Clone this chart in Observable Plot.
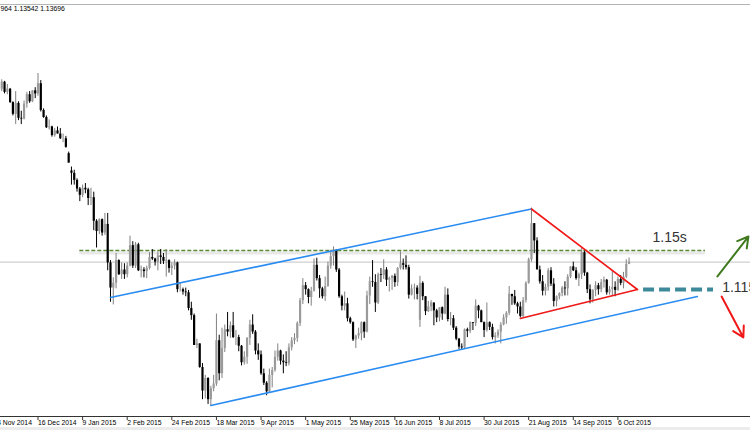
<!DOCTYPE html>
<html><head><meta charset="utf-8">
<script src="https://cdn.jsdelivr.net/npm/d3@7"></script>
<script src="https://cdn.jsdelivr.net/npm/@observablehq/plot@0.6"></script>
<style>
html,body{margin:0;padding:0;background:#ececec;}
#chart svg{display:block;background:#fff;}
</style></head><body><div id="chart"></div>
<script>
// EURUSD daily bars, 27 Nov 2014 .. 12 Oct 2015 (bar index counted from the 24 Nov 2014 tick)
const FIRST_BAR = 3;
const open = [
  1.2470,1.2515,
  1.2450,1.2470,1.2385,1.2310,1.2380,1.2285,1.2280,1.2375,1.2435,1.2390,1.2460,1.2440,1.2505,1.2335,1.2290,1.2225,1.2230,1.2175,1.2205,1.2185,1.2155,1.2155,
  1.2060,1.1950,1.1935,1.1890,1.1835,1.1795,1.1840,1.1830,1.1775,1.1780,1.1630,1.1565,1.1640,1.1555,1.1610,1.1365,1.1205,1.1235,1.1380,1.1290,1.1320,
  1.1290,1.1345,1.1475,1.1345,1.1480,1.1315,1.1320,1.1310,1.1330,1.1400,1.1390,1.1370,1.1410,1.1400,1.1375,1.1380,1.1330,1.1345,1.1365,1.1195,
  1.1195,1.1180,1.1175,1.1075,1.1030,1.0840,1.0850,1.0700,1.0550,1.0630,1.0495,1.0565,1.0595,1.0870,1.0660,1.0820,1.0940,1.0925,1.0965,1.0890,1.0890,1.0835,
  1.0730,1.0765,1.0885,1.0970,1.0925,1.0805,1.0780,1.0660,1.0600,1.0545,1.0650,1.0680,1.0765,1.0805,1.0740,1.0730,1.0725,1.0825,1.0870,1.0885,1.0980,1.1125,
  1.1220,1.1195,1.1145,1.1185,1.1350,1.1265,1.1200,1.1150,1.1215,1.1345,1.1405,1.1445,1.1320,1.1150,1.1090,1.1105,1.1010,1.0985,1.0875,1.0900,1.0915,
  1.0985,1.0925,1.1155,1.1245,1.1240,1.1110,1.1290,1.1285,1.1320,1.1255,1.1265,1.1280,1.1240,1.1330,1.1360,1.1350,1.1335,1.1160,1.1200,1.1205,1.1000,1.1235,
  1.1150,1.1055,1.1085,1.1110,1.1060,1.1015,1.1080,1.1040,1.1160,1.1005,1.1010,1.0950,1.0880,1.0830,1.0825,1.0940,1.0930,1.0985,1.0980,1.1090,1.1060,1.0985,1.0935,
  1.0985,1.0955,1.0890,1.0900,1.0925,1.0970,1.1015,1.1045,1.1165,1.1150,1.1105,1.1085,1.1025,1.1125,1.1235,1.1385,1.1615,1.1505,1.1320,1.1245,1.1185,
  1.1210,1.1315,1.1230,1.1120,1.1150,1.1170,1.1205,1.1200,1.1275,1.1340,1.1315,1.1265,1.1290,1.1430,1.1300,1.1195,1.1130,1.1190,1.1220,1.1195,1.1240,1.1255,
  1.1175,1.1195,1.1210,1.1190,1.1260,1.1235,1.1275,1.1355
];
const high = [
  1.2530,1.2520,
  1.2500,1.2475,1.2390,1.2455,1.2390,1.2330,1.2395,1.2450,1.2455,1.2460,1.2480,1.2570,1.2525,1.2345,1.2300,1.2275,1.2235,1.2220,1.2230,1.2220,1.2185,1.2170,
  1.2070,1.1975,1.1955,1.1900,1.1845,1.1860,1.1870,1.1840,1.1840,1.1815,1.1640,1.1645,1.1645,1.1680,1.1680,1.1380,1.1270,1.1425,1.1385,1.1365,1.1360,
  1.1365,1.1535,1.1500,1.1495,1.1490,1.1345,1.1335,1.1345,1.1430,1.1450,1.1395,1.1435,1.1450,1.1425,1.1450,1.1385,1.1365,1.1385,1.1370,1.1240,
  1.1205,1.1205,1.1190,1.1115,1.1040,1.0880,1.0850,1.0725,1.0650,1.0635,1.0580,1.0650,1.1040,1.0905,1.0950,1.0970,1.1050,1.0990,1.1050,1.0935,1.0905,1.0840,
  1.0800,1.0890,1.1000,1.1035,1.0935,1.0850,1.0805,1.0690,1.0610,1.0690,1.0700,1.0805,1.0850,1.0810,1.0780,1.0800,1.0850,1.0890,1.0915,1.0990,1.1140,1.1265,
  1.1240,1.1200,1.1210,1.1390,1.1395,1.1285,1.1210,1.1275,1.1370,1.1445,1.1467,1.1450,1.1330,1.1160,1.1180,1.1140,1.1020,1.0990,1.0905,1.0950,1.0990,
  1.0990,1.1185,1.1275,1.1380,1.1290,1.1300,1.1330,1.1385,1.1335,1.1275,1.1285,1.1295,1.1335,1.1436,1.1390,1.1410,1.1350,1.1225,1.1230,1.1220,1.1280,1.1245,
  1.1150,1.1120,1.1125,1.1110,1.1070,1.1080,1.1085,1.1210,1.1200,1.1050,1.1030,1.0960,1.0885,1.0850,1.0945,1.0950,1.0990,1.0985,1.1130,1.1095,1.1065,1.0990,1.1110,
  1.0990,1.0975,1.0920,1.0940,1.0985,1.1035,1.1055,1.1215,1.1165,1.1190,1.1115,1.1115,1.1145,1.1245,1.1395,1.1714,1.1615,1.1525,1.1345,1.1285,1.1230,
  1.1330,1.1335,1.1265,1.1155,1.1175,1.1215,1.1245,1.1290,1.1340,1.1370,1.1335,1.1300,1.1460,1.1440,1.1305,1.1225,1.1195,1.1245,1.1235,1.1260,1.1275,1.1260,
  1.1215,1.1310,1.1245,1.1275,1.1285,1.1305,1.1385,1.13964
];
const low = [
  1.2455,1.2440,
  1.2435,1.2380,1.2300,1.2245,1.2270,1.2245,1.2275,1.2350,1.2380,1.2385,1.2410,1.2425,1.2325,1.2285,1.2220,1.2210,1.2165,1.2165,1.2185,1.2150,1.2130,1.2095,
  1.2000,1.1860,1.1860,1.1815,1.1755,1.1780,1.1805,1.1730,1.1730,1.1570,1.1460,1.1545,1.1535,1.1540,1.1315,1.1115,1.1098,1.1200,1.1285,1.1260,1.1260,
  1.1270,1.1340,1.1330,1.1330,1.1310,1.1270,1.1270,1.1265,1.1320,1.1380,1.1345,1.1315,1.1355,1.1355,1.1275,1.1300,1.1285,1.1320,1.1175,1.1180,
  1.1160,1.1150,1.1060,1.1000,1.0840,1.0820,1.0695,1.0495,1.0500,1.0465,1.0458,1.0545,1.0580,1.0615,1.0630,1.0795,1.0895,1.0885,1.0885,1.0840,1.0800,1.0710,
  1.0715,1.0720,1.0840,1.0910,1.0780,1.0745,1.0650,1.0585,1.0520,1.0540,1.0570,1.0670,1.0740,1.0715,1.0660,1.0705,1.0710,1.0805,1.0845,1.0860,1.0960,1.1100,
  1.1160,1.1105,1.1090,1.1180,1.1250,1.1140,1.1135,1.1120,1.1210,1.1325,1.1345,1.1305,1.1140,1.1060,1.1060,1.0990,1.0975,1.0865,1.0820,1.0880,1.0870,
  1.0885,1.0920,1.1100,1.1210,1.1050,1.1100,1.1240,1.1260,1.1215,1.1180,1.1190,1.1210,1.1215,1.1320,1.1320,1.1320,1.1135,1.1155,1.1130,1.1130,1.0955,1.1125,
  1.1030,1.1050,1.1055,1.0965,1.0985,1.0990,1.1000,1.1035,1.0990,1.0965,1.0935,1.0870,1.0815,1.0808,1.0815,1.0890,1.0915,1.0935,1.0960,1.1010,1.0985,1.0890,1.0925,
  1.0935,1.0875,1.0850,1.0885,1.0850,1.0965,1.0975,1.1030,1.1095,1.1095,1.1040,1.1015,1.1015,1.1110,1.1230,1.1370,1.1425,1.1325,1.1230,1.1155,1.1155,
  1.1185,1.1215,1.1085,1.1085,1.1130,1.1150,1.1155,1.1155,1.1265,1.1310,1.1255,1.1215,1.1260,1.1280,1.1170,1.1105,1.1110,1.1150,1.1160,1.1175,1.1205,1.1160,
  1.1160,1.1150,1.1150,1.1185,1.1220,1.1200,1.1265,1.13542
];
const close = [
  1.2515,1.2450,
  1.2470,1.2385,1.2310,1.2380,1.2285,1.2280,1.2375,1.2435,1.2390,1.2460,1.2440,1.2505,1.2335,1.2290,1.2225,1.2230,1.2175,1.2205,1.2185,1.2155,1.2155,1.2100,
  1.2000,1.1935,1.1890,1.1835,1.1795,1.1840,1.1830,1.1775,1.1780,1.1630,1.1565,1.1640,1.1555,1.1610,1.1365,1.1205,1.1235,1.1380,1.1290,1.1320,1.1290,
  1.1345,1.1475,1.1345,1.1480,1.1315,1.1320,1.1310,1.1330,1.1400,1.1390,1.1370,1.1410,1.1400,1.1375,1.1380,1.1330,1.1345,1.1365,1.1195,1.1195,
  1.1180,1.1175,1.1075,1.1030,1.0840,1.0850,1.0700,1.0550,1.0630,1.0495,1.0565,1.0595,1.0870,1.0660,1.0820,1.0940,1.0925,1.0965,1.0890,1.0890,1.0835,1.0730,
  1.0765,1.0885,1.0970,1.0925,1.0805,1.0780,1.0660,1.0600,1.0545,1.0650,1.0680,1.0765,1.0805,1.0740,1.0730,1.0725,1.0825,1.0870,1.0885,1.0980,1.1125,1.1220,
  1.1195,1.1145,1.1185,1.1350,1.1265,1.1200,1.1150,1.1215,1.1345,1.1405,1.1445,1.1320,1.1150,1.1090,1.1105,1.1010,1.0985,1.0875,1.0900,1.0915,1.0985,
  1.0925,1.1155,1.1245,1.1240,1.1110,1.1290,1.1285,1.1320,1.1255,1.1265,1.1280,1.1240,1.1330,1.1360,1.1350,1.1335,1.1160,1.1200,1.1205,1.1165,1.1235,1.1150,
  1.1055,1.1085,1.1110,1.1060,1.1015,1.1080,1.1040,1.1160,1.1005,1.1010,1.0950,1.0880,1.0830,1.0825,1.0940,1.0930,1.0985,1.0980,1.1090,1.1060,1.0985,1.0935,1.0985,
  1.0955,1.0890,1.0900,1.0925,1.0970,1.1015,1.1045,1.1165,1.1150,1.1105,1.1085,1.1025,1.1125,1.1235,1.1385,1.1615,1.1505,1.1320,1.1245,1.1185,1.1210,
  1.1315,1.1230,1.1120,1.1150,1.1170,1.1205,1.1200,1.1275,1.1340,1.1315,1.1265,1.1290,1.1430,1.1300,1.1195,1.1130,1.1190,1.1220,1.1195,1.1240,1.1255,1.1175,
  1.1195,1.1210,1.1190,1.1260,1.1235,1.1275,1.1355,1.13696
];

const tickBars   = [0,16,32,48,64,80,96,112,128,144,160,176,192,208,224];
const tickLabels = ["24 Nov 2014","16 Dec 2014","9 Jan 2015","2 Feb 2015","24 Feb 2015","18 Mar 2015","9 Apr 2015","1 May 2015","25 May 2015","16 Jun 2015","8 Jul 2015","30 Jul 2015","21 Aug 2015","14 Sep 2015","6 Oct 2015"];
const headerText = "964 1.13542 1.13696";

// drawn annotations (bar index, price)
const resistanceLevel = [1.1444];
const resistanceSpan  = [31, 255.4];
const resistanceLabel = [{i: 236.4, p: 1.1527, t: "1.15s"}];
const supportLevel    = [1.1196];
const supportSpan     = [233.2, 258.3];
const supportLabel    = [{i: 261.4, p: 1.1209, t: "1.115"}];
const channelUpper    = [{i: 42, p: 1.1145}, {i: 193, p: 1.1708}];
const channelLower    = [{i: 78, p: 1.0458}, {i: 252.5, p: 1.1151}];
const triangleUpper   = [{i: 193, p: 1.1708}, {i: 231, p: 1.1196}];
const triangleLower   = [{i: 189, p: 1.1012}, {i: 231, p: 1.1196}];
const arrowUp         = [{i1: 259.7, p1: 1.1279, i2: 270.8, p2: 1.1533}];
const arrowDown       = [{i1: 261.2, p1: 1.1151, i2: 269.0, p2: 1.0891}];

const bars = close.map((c, k) => ({i: FIRST_BAR + k, o: open[k], h: high[k], l: low[k], c}));
const lastClose = [close[close.length - 1]];

const chart = Plot.plot({
  width: 750, height: 427,
  marginLeft: 0, marginRight: 0, marginTop: 4, marginBottom: 11,
  style: {fontFamily: "'Liberation Sans', Arial, sans-serif", background: "#fff"},
  x: {domain: [2.55, 271.56]},
  y: {domain: [1.03881, 1.30089], axis: null},
  marks: [
    Plot.frame({anchor: "top", stroke: "#b4b4b4"}),
    Plot.ruleY(lastClose, {stroke: "#cfcfcf", strokeWidth: 1.2}),
    // green resistance with soft shadow
    Plot.ruleY(resistanceLevel, {x1: resistanceSpan[0], x2: resistanceSpan[1], stroke: "#bdbdbd", strokeWidth: 3, strokeOpacity: 0.35, dy: 2.5}),
    Plot.ruleY(resistanceLevel, {x1: resistanceSpan[0], x2: resistanceSpan[1], stroke: "#5a8a32", strokeWidth: 1.3, strokeDasharray: "4,2"}),
    // candles
    Plot.ruleX(bars, {x: "i", y1: "l", y2: "h", stroke: d => d.c >= d.o ? "#808080" : "#000", strokeWidth: 1}),
    Plot.ruleX(bars, {x: "i", y1: "o", y2: "c", stroke: d => d.c >= d.o ? "#9a9a9a" : "#000", strokeWidth: 2.2}),
    // channel
    Plot.line(channelUpper, {x: "i", y: "p", stroke: "#2a8cf0", strokeWidth: 1.6}),
    Plot.line(channelLower, {x: "i", y: "p", stroke: "#2a8cf0", strokeWidth: 1.6}),
    // triangle
    Plot.line(triangleUpper, {x: "i", y: "p", stroke: "#f01818", strokeWidth: 1.6}),
    Plot.line(triangleLower, {x: "i", y: "p", stroke: "#f01818", strokeWidth: 1.6}),
    // support dashes
    Plot.ruleY(supportLevel, {x1: supportSpan[0], x2: supportSpan[1], stroke: "#3d8a9b", strokeWidth: 4, strokeDasharray: "11,5"}),
    Plot.text(resistanceLabel, {x: "i", y: "p", text: "t", textAnchor: "start", fontSize: 14, fill: "#333"}),
    Plot.text(supportLabel, {x: "i", y: "p", text: "t", textAnchor: "start", fontSize: 14, fill: "#333"}),
    Plot.arrow(arrowUp, {x1: "i1", y1: "p1", x2: "i2", y2: "p2", stroke: "#3f7a1e", strokeWidth: 2, headLength: 9}),
    Plot.arrow(arrowDown, {x1: "i1", y1: "p1", x2: "i2", y2: "p2", stroke: "#f01818", strokeWidth: 2, headLength: 9}),
    // header
    Plot.text([headerText], {frameAnchor: "top-left", textAnchor: "start", lineAnchor: "top", dy: 1.5, fontSize: 6.8, fill: "#000"}),
    // x axis
    Plot.frame({anchor: "bottom", stroke: "#333"}),
    Plot.axisX({ticks: tickBars, tickFormat: d => tickLabels[tickBars.indexOf(d)], anchor: "bottom", tickSize: 4, tickPadding: 0, textAnchor: "start", fontSize: 6.8, label: null, stroke: "#333", fill: "#000"})
  ]
});
document.getElementById("chart").appendChild(chart);
</script></body></html>
